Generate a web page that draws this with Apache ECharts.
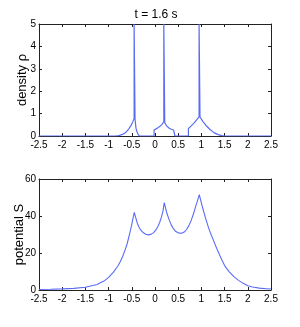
<!DOCTYPE html>
<html><head><meta charset="utf-8">
<script src="https://cdn.jsdelivr.net/npm/echarts@6/dist/echarts.min.js"></script>
<style>html,body{margin:0;padding:0;background:#fff}#c{width:300px;height:327px}</style>
</head><body><div id="c"></div>
<script>
var titleText = 't = 1.6 s';
var densityName = 'density ρ';
var potentialName = 'potential S';
var xTicks = [-2.5, 2.5, 0.5];
var densityTicks = [0, 5, 1];
var potentialTicks = [0, 60, 20];

var densityX = [-2.5, -0.86, -0.78, -0.7, -0.63, -0.57, -0.52, -0.48, -0.45, -0.45, -0.43, -0.43, -0.41, -0.39, -0.37, -0.35, -0.34, -0.02, -0.02, 0.04, 0.1, 0.15, 0.19, 0.19, 0.21, 0.21, 0.25, 0.3, 0.35, 0.4, 0.43, 0.43, 0.72, 0.72, 0.78, 0.85, 0.91, 0.95, 0.95, 0.97, 0.97, 1.03, 1.1, 1.18, 1.27, 1.36, 1.44, 1.51, 2.5];
var densityY = [0, 0, 0.02, 0.07, 0.16, 0.3, 0.46, 0.63, 0.78, 5, 5, 0.75, 0.35, 0.2, 0.1, 0.03, 0, 0, 0.27, 0.34, 0.42, 0.52, 0.63, 5, 5, 0.6, 0.45, 0.36, 0.3, 0.27, 0.25, 0, 0, 0.33, 0.45, 0.6, 0.75, 0.85, 5, 5, 0.85, 0.65, 0.47, 0.3, 0.15, 0.06, 0.02, 0, 0];

var potentialX = [-2.5, -2.25, -2, -1.75, -1.5, -1.25, -1.1, -1, -0.9, -0.8, -0.75, -0.7, -0.65, -0.6, -0.55, -0.5, -0.47, -0.446, -0.42, -0.38, -0.34, -0.3, -0.25, -0.2, -0.14, -0.08, -0.03, 0.02, 0.06, 0.1, 0.14, 0.17, 0.2, 0.23, 0.26, 0.3, 0.35, 0.4, 0.45, 0.5, 0.575, 0.63, 0.68, 0.73, 0.78, 0.83, 0.88, 0.92, 0.955, 0.98, 1.0, 1.05, 1.1, 1.15, 1.2, 1.25, 1.3, 1.35, 1.4, 1.45, 1.5, 1.6, 1.7, 1.8, 1.9, 2.0, 2.1, 2.25, 2.4, 2.5];
var potentialY = [0.3, 0.4, 0.6, 0.9, 1.5, 3.0, 4.8, 6.8, 9.5, 13.0, 15.3, 18.0, 21.3, 25.0, 30.0, 35.5, 39.3, 42.0, 39.5, 36.0, 33.8, 32.2, 30.9, 30.1, 29.8, 30.2, 31.0, 32.5, 34.2, 36.5, 39.5, 42.5, 47.2, 44.0, 41.2, 38.3, 35.2, 33.0, 31.6, 30.9, 30.7, 31.3, 32.7, 34.8, 37.6, 41.2, 45.5, 48.6, 51.6, 49.0, 47.0, 42.3, 38.0, 34.0, 30.5, 27.5, 24.3, 21.3, 18.5, 15.8, 13.2, 9.8, 7.2, 5.2, 3.6, 2.3, 1.6, 1.0, 0.7, 0.5];

function pairs(xs, ys) { return xs.map(function (x, i) { return [x, ys[i]]; }); }

var font = "'Liberation Sans Narrow', 'Liberation Sans', Arial, sans-serif";
var axisColor = '#222';
function xAx(grid, pos, showLabel) {
  return { type: 'value', gridIndex: grid, position: pos, min: xTicks[0], max: xTicks[1], interval: xTicks[2],
    axisLine: { onZero: false, lineStyle: { color: axisColor, width: 1 } },
    axisTick: { inside: true, length: 3, lineStyle: { color: axisColor } },
    axisLabel: { show: showLabel, color: '#000', fontSize: 10, fontFamily: font, margin: 4,
      alignMinLabel: 'center', alignMaxLabel: 'center', hideOverlap: false },
    splitLine: { show: false } };
}
function yAx(grid, pos, ticks, showLabel, name, gap) {
  return { type: 'value', gridIndex: grid, position: pos, min: ticks[0], max: ticks[1], interval: ticks[2],
    name: name || '', nameLocation: 'middle', nameGap: gap || 10, nameRotate: 90, nameMoveOverlap: false,
    nameTextStyle: { color: '#000', fontSize: 13, fontFamily: "'Liberation Sans', Arial, sans-serif" },
    axisLine: { onZero: false, lineStyle: { color: axisColor, width: 1 } },
    axisTick: { inside: true, length: 3, lineStyle: { color: axisColor } },
    axisLabel: { show: showLabel, color: '#000', fontSize: 10, fontFamily: font, margin: 3 },
    splitLine: { show: false } };
}

var chart = echarts.init(document.getElementById('c'), null, { renderer: 'canvas' });
chart.setOption({
  animation: false,
  backgroundColor: '#fff',
  title: { text: titleText, left: 151, top: 4, textAlign: 'center',
    textStyle: { fontSize: 12, fontWeight: 'normal', color: '#000', fontFamily: font } },
  grid: [
    { left: 39, right: 29, top: 24, height: 112, containLabel: false, outerBoundsMode: 'none' },
    { left: 39, right: 29, top: 179, height: 111, containLabel: false, outerBoundsMode: 'none' }
  ],
  xAxis: [xAx(0, 'bottom', true), xAx(0, 'top', false), xAx(1, 'bottom', true), xAx(1, 'top', false)],
  yAxis: [yAx(0, 'left', densityTicks, true, densityName, 10), yAx(0, 'right', densityTicks, false),
          yAx(1, 'left', potentialTicks, true, potentialName, 13), yAx(1, 'right', potentialTicks, false)],
  series: [
    { type: 'line', xAxisIndex: 0, yAxisIndex: 0, data: pairs(densityX, densityY), showSymbol: false,
      lineStyle: { color: '#5a6cf5', width: 1.2 }, clip: true },
    { type: 'line', xAxisIndex: 2, yAxisIndex: 2, data: pairs(potentialX, potentialY), showSymbol: false,
      lineStyle: { color: '#5a6cf5', width: 1.1 }, clip: true }
  ]
});
</script></body></html>
